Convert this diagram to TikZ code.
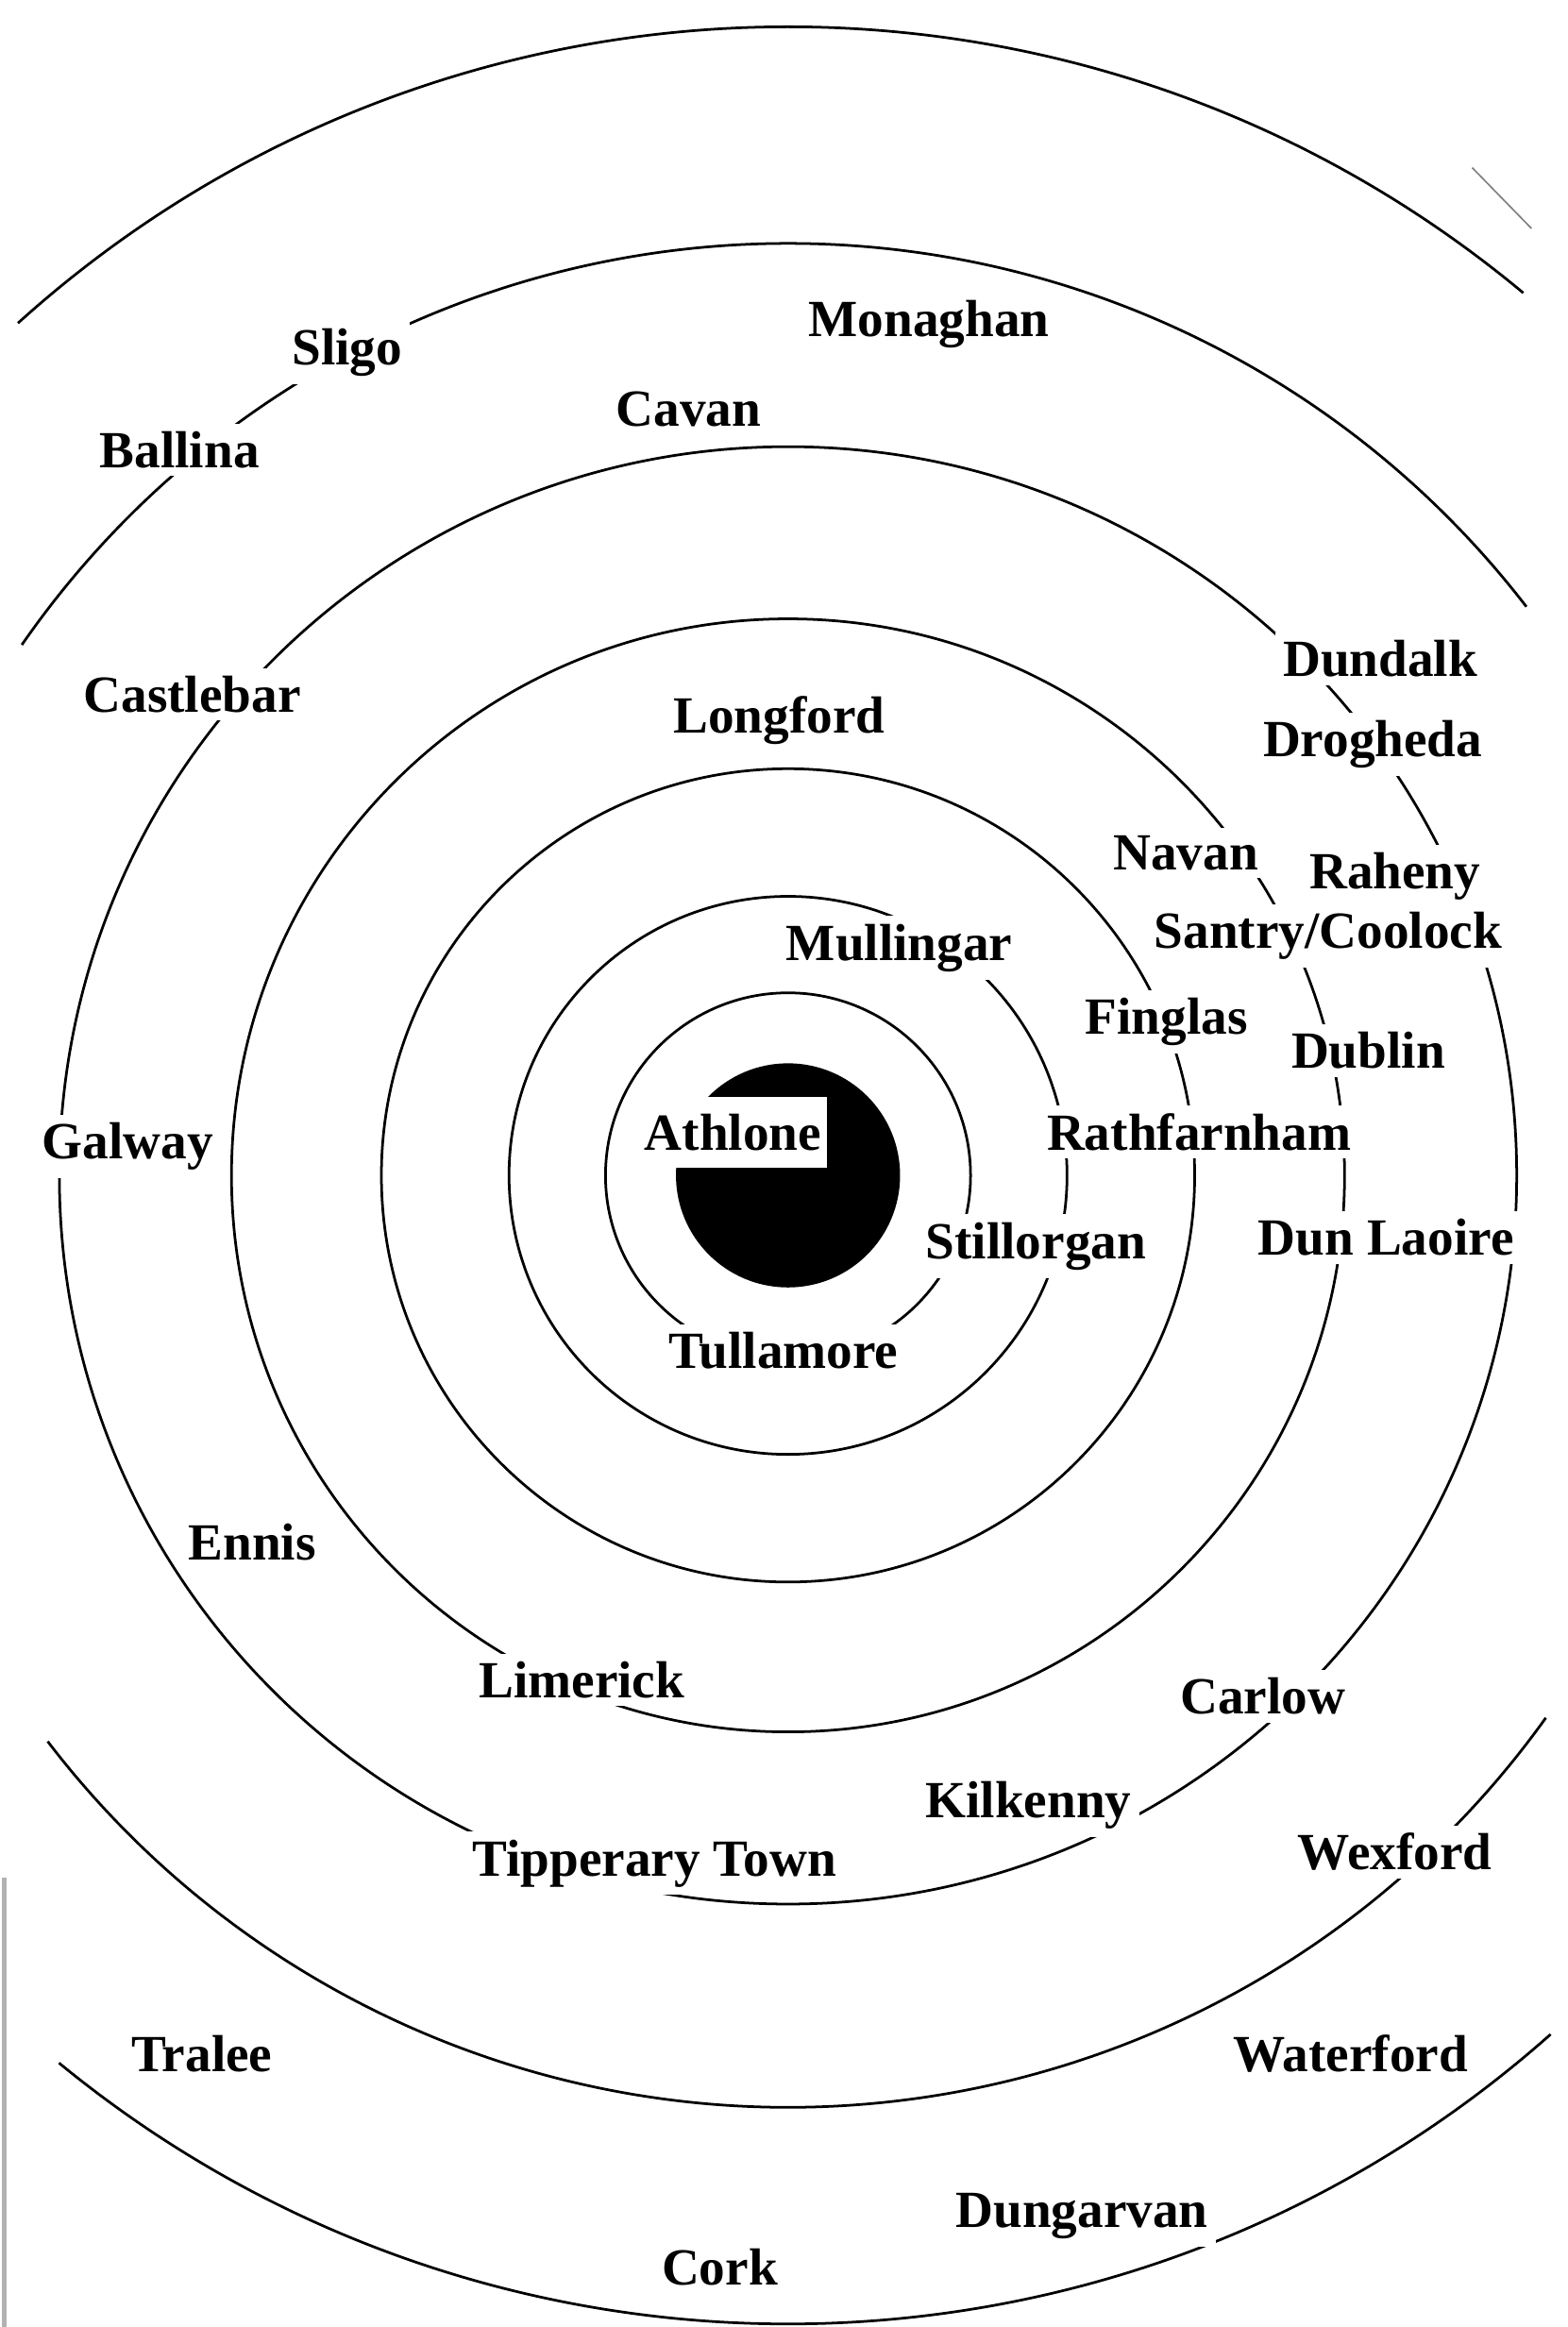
\documentclass[tikz,border=0pt]{standalone}
\usepackage{fontspec}
\setmainfont{Liberation Serif}
\begin{document}
\begin{tikzpicture}[
  ring/.style={line width=0.5pt},
  town/.style={fill=white, inner sep=1.5pt, anchor=base, font=\bfseries}
]
  \useasboundingbox (-5.31,-7.76) rectangle (5.25,7.92);
  % rings round Athlone, radii (centre at origin)
  \foreach \r in {1.23,1.88,2.74,3.75,4.91}
    \draw[ring] (0,0) circle (\r);
  % the two outer rings run off the page at both sides
  \draw[ring] (37.6:6.28) arc[start angle=37.6, end angle=145.3, radius=6.28];
  \draw[ring] (217.4:6.28) arc[start angle=217.4, end angle=324.4, radius=6.28];
  \draw[ring] (50.2:7.74) arc[start angle=50.2, end angle=132.1, radius=7.74];
  \draw[ring] (230.6:7.74) arc[start angle=230.6, end angle=311.6, radius=7.74];
  % centre
  \fill (0,0) circle (0.755);
  % marks of the scan
  \draw[gray, line width=0.3pt] (4.61,6.79) -- (5.01,6.38);
  \draw[gray!60, line width=1pt] (-5.28,-4.73) -- (-5.28,-7.76);
  % towns, white boxes break the rings they sit on
  \node[town, inner xsep=1pt, inner ysep=3.2pt] (ath) at (-0.37,0.17) {Athlone};
  \node[town] (mul) at (0.75,1.45) {Mullingar};
  \node[town] (tul) at (-0.03,-1.30) {Tullamore};
  \node[town] (sti) at (1.67,-0.56) {Stillorgan};
  \node[town] (rat) at (2.77,0.17) {Rathfarnham};
  \node[town] (fin) at (2.55,0.95) {Finglas};
  \node[town] (dub) at (3.91,0.72) {Dublin};
  \node[town] (dla) at (4.03,-0.54) {Dun Laoire};
  \node[town] (nav) at (2.68,2.06) {Navan};
  \node[town] (san) at (3.64,1.53) {Santry/Coolock};
  \node[town] (rah) at (4.09,1.93) {Raheny};
  \node[town] (dro) at (3.94,2.82) {Drogheda};
  \node[town] (dun) at (3.99,3.36) {Dundalk};
  \node[town] (lon) at (-0.06,2.98) {Longford};
  \node[town] (cav) at (-0.67,5.05) {Cavan};
  \node[town] (mon) at (0.95,5.65) {Monaghan};
  \node[town] (sli) at (-2.97,5.46) {Sligo};
  \node[town] (bal) at (-4.10,4.77) {Ballina};
  \node[town] (cas) at (-4.015,3.12) {Castlebar};
  \node[town] (gal) at (-4.45,0.11) {Galway};
  \node[town] (enn) at (-3.61,-2.59) {Ennis};
  \node[town] (lim) at (-1.39,-3.52) {Limerick};
  \node[town] (car) at (3.20,-3.63) {Carlow};
  \node[town] (kil) at (1.62,-4.33) {Kilkenny};
  \node[town] (tip) at (-0.90,-4.72) {Tipperary Town};
  \node[town] (wex) at (4.09,-4.68) {Wexford};
  \node[town] (tra) at (-3.95,-6.04) {Tralee};
  \node[town] (wat) at (3.79,-6.04) {Waterford};
  \node[town] (dng) at (1.98,-7.09) {Dungarvan};
  \node[town] (cor) at (-0.46,-7.48) {Cork};
\end{tikzpicture}
\end{document}
